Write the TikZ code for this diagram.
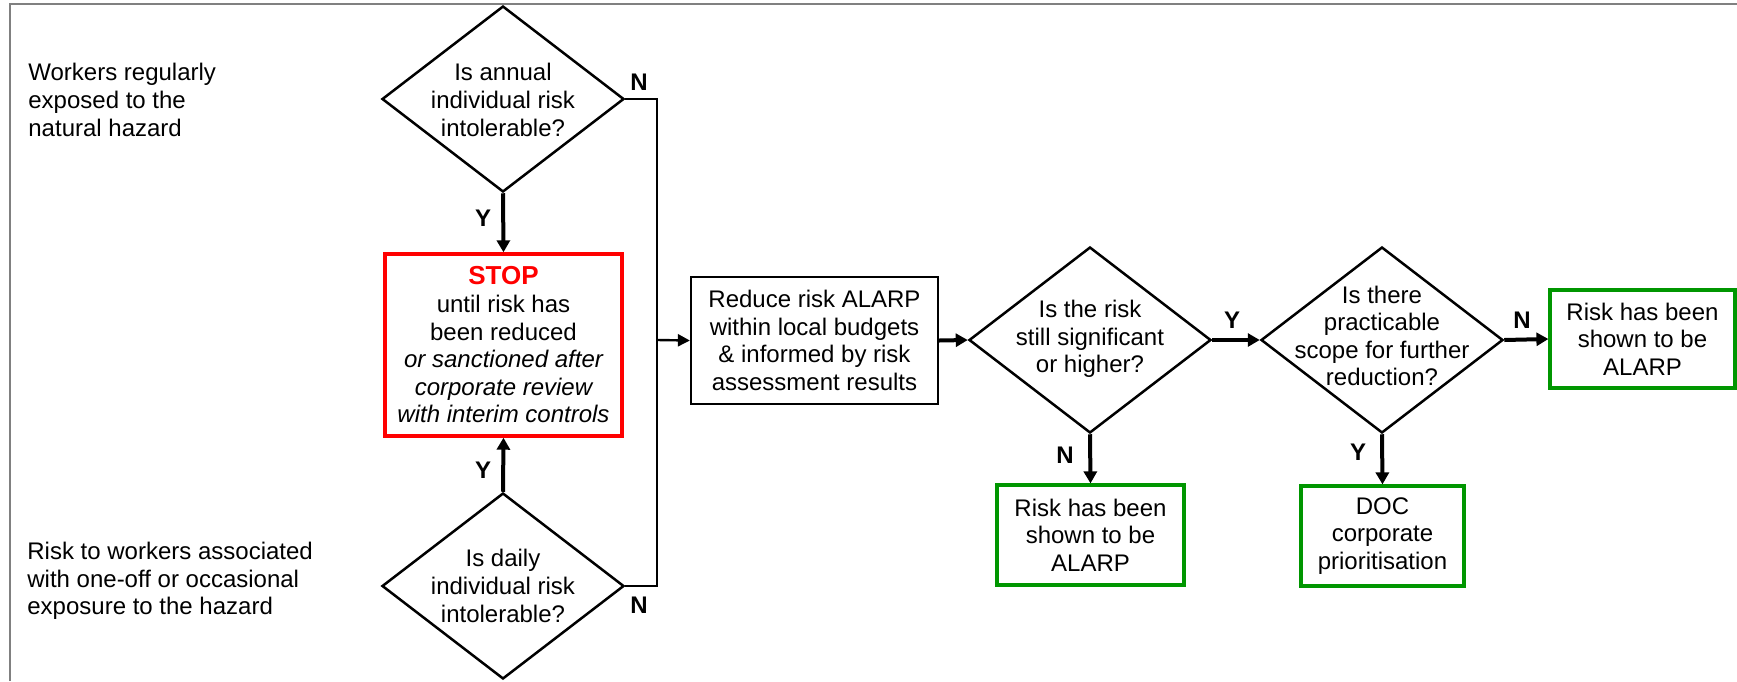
\documentclass[tikz,border=0pt]{standalone}
\usepackage{fontspec}
\setmainfont{Liberation Sans}
\usetikzlibrary{shapes.geometric,arrows.meta}
\definecolor{framegray}{RGB}{128,128,128}
\definecolor{boxgreen}{RGB}{0,150,0}
\begin{document}
\begin{tikzpicture}[x=0.5pt,y=-0.5pt,
  font=\fontsize{12}{13.8}\selectfont,
  dia/.style={draw,diamond,line width=1.25pt,inner sep=0pt,minimum width=121pt,minimum height=93pt},
  txt/.style={align=center,inner sep=0pt},
  blackbox/.style={draw,line width=1.15pt,align=center,inner sep=0pt},
  redbox/.style={draw=red,line width=1.7pt,align=center,inner sep=0pt},
  greenbox/.style={draw=boxgreen,line width=1.6pt,align=center,inner sep=0pt},
  thinarrow/.style={line width=1.2pt,-{Triangle[length=6pt,width=6pt]}},
  thickarrow/.style={line width=2pt,-{Triangle[length=6pt,width=6.5pt]}},
  conn/.style={line width=1.2pt},
  yn/.style={font=\fontsize{12}{13.8}\selectfont\bfseries,inner sep=0pt}]
\useasboundingbox (0,0) rectangle (1737,681);
\fill[white] (0,0) rectangle (1737,681);
\draw[framegray,line width=1pt] (10,681) -- (10,4) -- (1737,4);

% left texts
\node[align=left,anchor=west,inner sep=0pt] (lt1) at (28,100) {Workers regularly\\exposed to the\\natural hazard};
\node[align=left,anchor=west,inner sep=0pt] (lt2) at (27,581) {Risk to workers associated\\with one-off or occasional\\exposure to the hazard};

% diamonds
\node[dia] (d1) at (503,99) {};
\node[txt] (d1t) at (503,100) {Is annual\\individual risk\\intolerable?};
\node[dia] (d2) at (503,586) {};
\node[txt] (d2t) at (503,586) {Is daily\\individual risk\\intolerable?};
\node[dia] (d3) at (1090,340) {};
\node[txt] (d3t) at (1090,339) {Is the risk\\still significant\\or higher?};
\node[dia] (d4) at (1382,340) {};
\node[txt] (d4t) at (1382,336) {Is there\\practicable\\scope for further\\reduction?};

% boxes
\node[redbox,minimum width=118.5pt,minimum height=91pt] (stop) at (503.5,345)
  {{\color{red}\bfseries\fontsize{13}{13.8}\selectfont STOP}\\until risk has\\been reduced\\\itshape or sanctioned after\\\itshape corporate review\\\itshape with interim controls};
\node[blackbox,minimum width=123.5pt,minimum height=63.5pt] (red) at (814.5,340.5)
  {Reduce risk ALARP\\within local budgets\\\& informed by risk\\assessment results};
\node[greenbox,minimum width=93.5pt,minimum height=50pt] (g1) at (1090.5,535)
  {Risk has been\\shown to be\\ALARP};
\node[greenbox,minimum width=92.5pt,minimum height=49pt] (g2) at (1642.5,339)
  {Risk has been\\shown to be\\ALARP};
\node[greenbox,minimum width=81.5pt,minimum height=50pt] (doc) at (1382.5,536)
  {DOC\\corporate\\prioritisation};

% connectors
\coordinate (j) at (657,340);
\draw[thickarrow] (d1.south) -- (stop.north);
\draw[thickarrow] (d2.north) -- (stop.south);
\draw[conn,line join=miter] (d1.east) -| (j) |- (d2.east);
\draw[thinarrow] (j) -- (red.west);
\draw[thickarrow] (red.east) -- (d3.west);
\draw[thickarrow] (d3.east) -- (d4.west);
\draw[thickarrow] (d3.south) -- (g1.north);
\draw[thickarrow] (d4.south) -- (doc.north);
\draw[thickarrow] (d4.east) -- (g2.west);

% labels
\node[yn] (n1) at (639,82) {N};
\node[yn] (y1) at (483,218) {Y};
\node[yn] (y2) at (483,470) {Y};
\node[yn] (n2) at (639,605) {N};
\node[yn] (y3) at (1232,320) {Y};
\node[yn] (n3) at (1065,455) {N};
\node[yn] (y4) at (1358,452) {Y};
\node[yn] (n4) at (1522,320) {N};
\end{tikzpicture}
\end{document}
